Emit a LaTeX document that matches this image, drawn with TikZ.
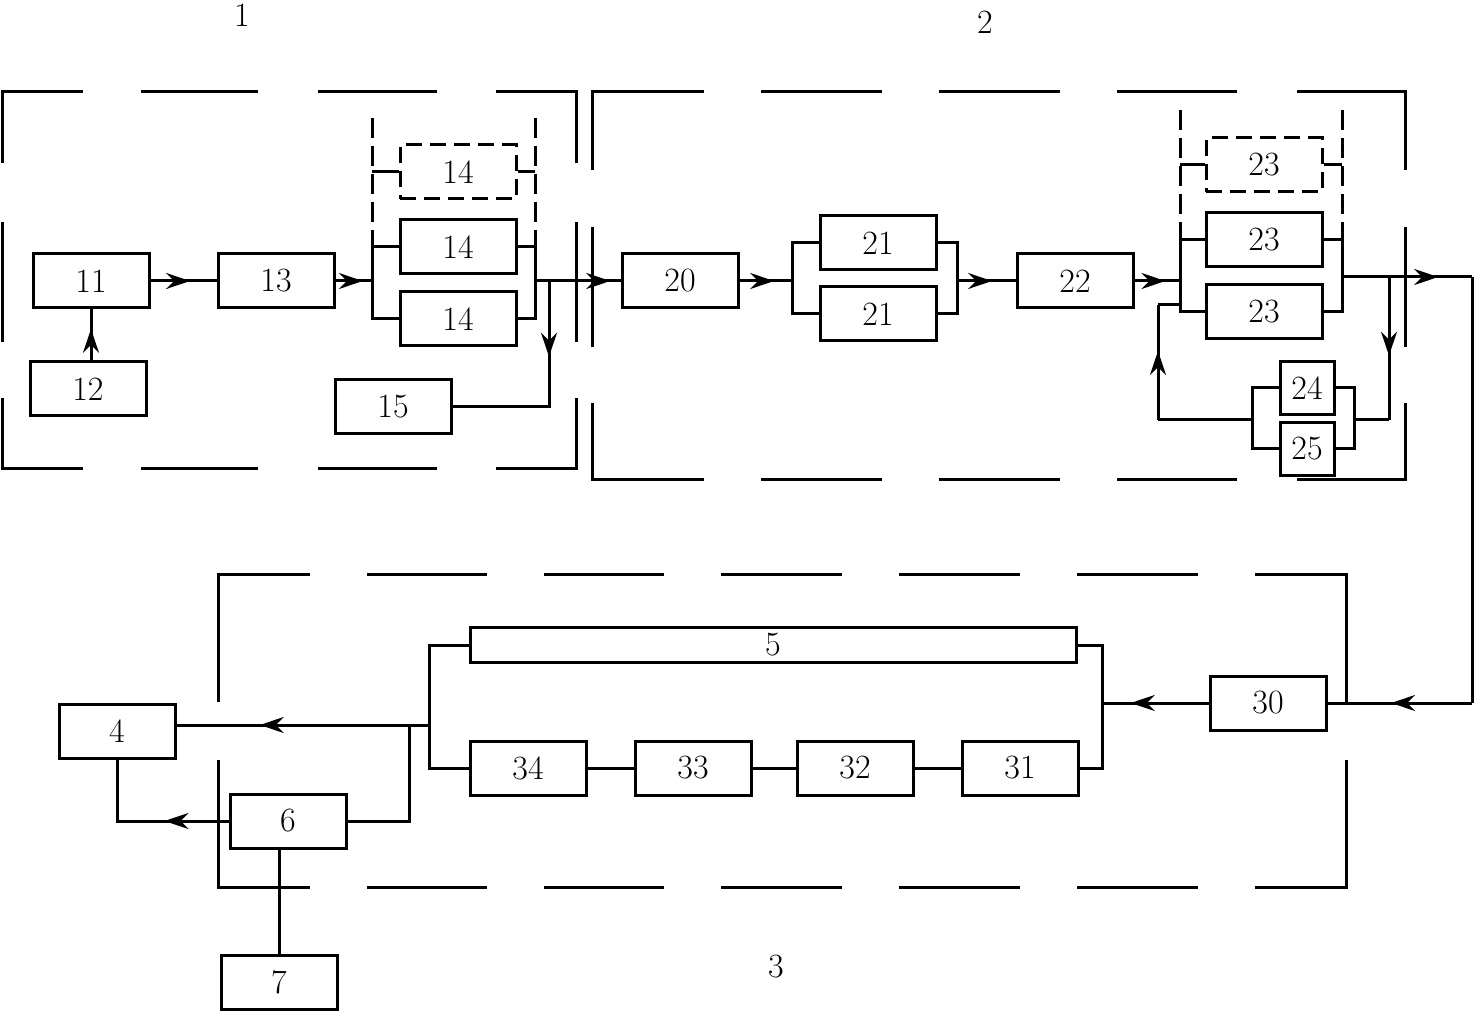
\documentclass[tikz,border=0pt]{standalone}
\usetikzlibrary{arrows.meta,decorations.markings}

\tikzset{
  box/.style={draw, minimum width=58pt, minimum height=27pt, inner sep=0pt},
  spare/.style={box, dash pattern=on 8pt off 4pt},
  flow/.style={postaction={decorate}, decoration={markings,
    mark=at position #1 with {\arrow{Stealth[open, length=12pt, width=8pt, inset=4pt]}}}},
}

\begin{document}
\begin{tikzpicture}[x=0.5pt, y=-0.5pt, line width=1.5pt, every node/.style={font=\fontsize{17}{20}\selectfont}]
	\useasboundingbox (0,0) rectangle (1480,1016);
	% region labels
	\node (l1) at (242,15) {1};
	\node (l2) at (985,22) {2};
	\node (l3) at (776,967) {3};
	% region frames
	\draw (2,163) |- (83,92);  \draw (2,398) |- (83,469);
	\draw (496,92) -| (576,163);  \draw (496,469) -| (576,398);
	\foreach \a/\b in {141/258, 318/437} {
		\draw (\a,92) -- (\b,92);  \draw (\a,469) -- (\b,469);
	}
	\draw (2,222) -- (2,342);  \draw (576,222) -- (576,342);
	\draw (592,170) |- (704,92);  \draw (592,403) |- (704,480);
	\draw (1297,92) -| (1405,170);  \draw (1297,480) -| (1405,403);
	\foreach \a/\b in {761/882, 939/1060, 1117/1237} {
		\draw (\a,92) -- (\b,92);  \draw (\a,480) -- (\b,480);
	}
	\draw (592,227) -- (592,347);  \draw (1405,227) -- (1405,347);
	\draw (218,702) |- (310,575);  \draw (218,760) |- (310,887);
	\draw (1255,575) -| (1346,702);  \draw (1255,887) -| (1346,760);
	\foreach \a/\b in {367/487, 544/664, 721/842, 899/1020, 1077/1198} {
		\draw (\a,575) -- (\b,575);  \draw (\a,887) -- (\b,887);
	}
	% region 1
	\node[box] (n11) at (91,281) {11};
	\node[box] (n12) at (88,389) {12};
	\node[box] (n13) at (276,281) {13};
	\node[spare] (n14d) at (458,172) {14};
	\node[box] (n14a) at (458,247) {14};
	\node[box] (n14b) at (458,319) {14};
	\node[box] (n15) at (393,407) {15};
	\coordinate (b14l) at (372,281);
	\coordinate (b14r) at (535,281);
	\coordinate (t15) at (549,281);
	\draw[flow=0.6] (n11.east) -- (n13.west);
	\draw[flow=0.62] (n11.south |- n12.north) -- (n11.south);
	\draw[flow=0.75] (n13.east) -- (b14l);
	\draw (n14a.west) -| (b14l) |- (n14b.west);
	\draw (n14a.east) -| (b14r) |- (n14b.east);
	\draw[dash pattern=on 10pt off 4pt] (372,118) -- (n14a.west -| b14l);
	\draw[dash pattern=on 10pt off 4pt] (535,118) -- (n14a.east -| b14r);
	\draw (n14d.west) -- (n14d.west -| b14l);
	\draw (n14d.east) -- (n14d.east -| b14r);
	\draw[flow=0.34] (t15) |- (n15.east);
	% region 2
	\node[box] (n20) at (680,281) {20};
	\node[box] (n21a) at (878,243) {21};
	\node[box] (n21b) at (878,314) {21};
	\node[box] (n22) at (1075,281) {22};
	\node[spare] (n23d) at (1264,165) {23};
	\node[box] (n23a) at (1264,240) {23};
	\node[box] (n23b) at (1264,312) {23};
	\node[box, minimum width=27pt, minimum height=26.5pt] (n24) at (1307,388) {24};
	\node[box, minimum width=27pt, minimum height=26.5pt] (n25) at (1307,449) {25};
	\coordinate (b21l) at (792,281);
	\coordinate (b21r) at (957,281);
	\coordinate (b23l) at (1180,281);
	\coordinate (b23r) at (1342,277);
	\coordinate (t24) at (1389,277);
	\coordinate (b25l) at (1252,420);
	\coordinate (b25r) at (1354,420);
	\coordinate (f1) at (1158,420);
	\coordinate (f2) at (1158,305);
	\coordinate (c1) at (1472,277);
	\coordinate (c2) at (1472,703);
	\draw[flow=0.88] (b14r) -- (n20.west);
	\draw[flow=0.66] (n20.east) -- (b21l);
	\draw (n21a.west) -| (b21l) |- (n21b.west);
	\draw (n21a.east) -| (b21r) |- (n21b.east);
	\draw[flow=0.6] (b21r) -- (n22.west);
	\draw[flow=0.68] (n22.east) -- (b23l);
	\draw (n23a.west) -| (b23l) |- (n23b.west);
	\draw (n23a.east) -| (b23r) |- (n23b.east);
	\draw[dash pattern=on 10pt off 4pt] (1180,110) -- (n23a.west -| b23l);
	\draw[dash pattern=on 10pt off 4pt] (1342,110) -- (n23a.east -| b23r);
	\draw (n23d.west) -- (n23d.west -| b23l);
	\draw (n23d.east) -- (n23d.east -| b23r);
	\draw[flow=0.74] (b23r) -- (c1);
	\draw (c1) -- (c2);
	\draw[flow=0.55] (t24) -- (t24 |- b25r);
	\draw (b25r) -- (t24 |- b25r);
	\draw (n24.east) -| (b25r) |- (n25.east);
	\draw (n24.west) -| (b25l) |- (n25.west);
	\draw (b25l) -- (f1);
	\draw[flow=0.6] (f1) -- (f2);
	\draw (f2) -- (f2 -| b23l);
	% region 3
	\node[box] (n30) at (1268,703) {30};
	\node[box, minimum width=303pt, minimum height=17.5pt] (n5) at (773,645) {5};
	\node[box] (n31) at (1020,768) {31};
	\node[box] (n32) at (855,768) {32};
	\node[box] (n33) at (693,768) {33};
	\node[box] (n34) at (528,768) {34};
	\node[box] (n4) at (117,731) {4};
	\node[box] (n6) at (288,821) {6};
	\node[box] (n7) at (279,982) {7};
	\coordinate (b3r) at (1102,703);
	\coordinate (b3l) at (429,725);
	\coordinate (b6) at (409,725);
	\draw[flow=0.56] (c2) -- (n30.east);
	\draw[flow=0.73] (n30.west) -- (b3r);
	\draw (n5.east) -| (b3r) |- (n31.east);
	\draw (n31.west) -- (n32.east);
	\draw (n32.west) -- (n33.east);
	\draw (n33.west) -- (n34.east);
	\draw (n5.west) -| (b3l) |- (n34.west);
	\draw[flow=0.67] (b3l) -- (b3l -| n4.east);
	\draw (b6) |- (n6.east);
	\draw[flow=0.37] (n6.west) -| (n4.south);
	\draw (n7.north) -- (n7.north |- n6.south);
\end{tikzpicture}
\end{document}
